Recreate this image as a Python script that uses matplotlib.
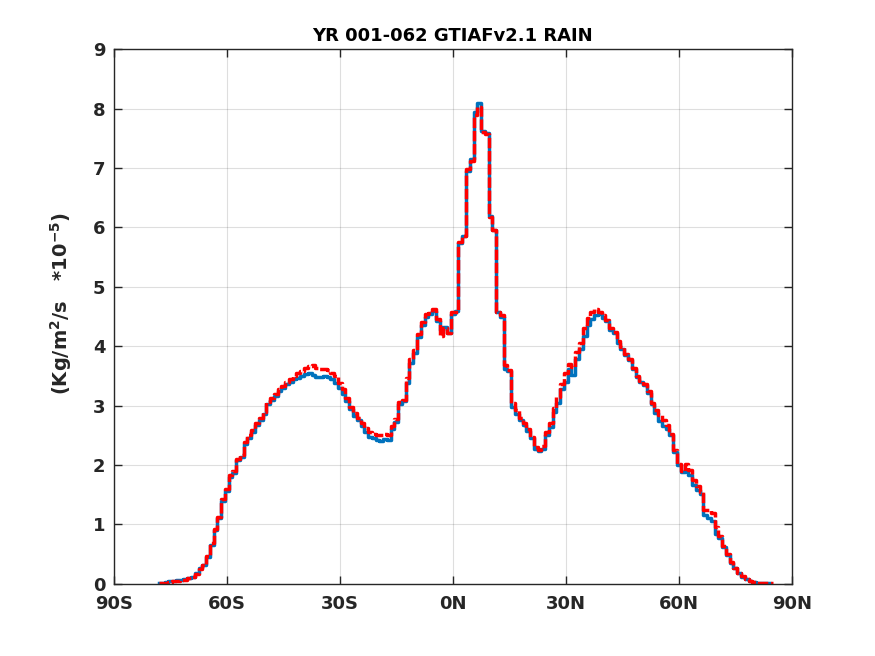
import matplotlib
matplotlib.use("Agg")
import matplotlib.pyplot as plt
import numpy as np

# zonal mean rain, 1 degree bins
lat = np.arange(-78, 85)

rain_blue = [
    0.02, 0.02, 0.03, 0.04, 0.05, 0.06, 0.07, 0.08, 0.10, 0.12,   # -78..-69
    0.18, 0.26, 0.31, 0.46, 0.66, 0.90, 1.10, 1.40, 1.56, 1.80,   # -68..-59
    1.86, 2.08, 2.14, 2.35, 2.46, 2.55, 2.68, 2.75, 2.86, 3.03,   # -58..-49
    3.09, 3.16, 3.25, 3.29, 3.36, 3.40, 3.44, 3.47, 3.50, 3.53,   # -48..-39
    3.55, 3.52, 3.48, 3.48, 3.50, 3.49, 3.44, 3.38, 3.30, 3.20,   # -38..-29
    3.08, 2.94, 2.83, 2.75, 2.66, 2.55, 2.48, 2.45, 2.42, 2.40,   # -28..-19
    2.43, 2.42, 2.60, 2.72, 3.02, 3.08, 3.38, 3.72, 3.88, 4.15,   # -18..-9
    4.35, 4.50, 4.54, 4.60, 4.42, 4.27, 4.32, 4.22, 4.55, 4.60,   # -8..1
    5.73, 5.85, 6.95, 7.15, 7.95, 8.09, 7.62, 7.59, 6.20, 5.96,   # 2..11
    4.57, 4.50, 3.62, 3.58, 2.98, 2.86, 2.76, 2.68, 2.58, 2.45,   # 12..21
    2.27, 2.23, 2.27, 2.50, 2.64, 2.90, 3.05, 3.28, 3.40, 3.62,   # 22..31
    3.52, 3.78, 3.95, 4.18, 4.35, 4.45, 4.52, 4.54, 4.48, 4.42,   # 32..41
    4.28, 4.22, 4.06, 3.96, 3.85, 3.76, 3.62, 3.48, 3.40, 3.34,   # 42..51
    3.22, 3.02, 2.88, 2.74, 2.66, 2.60, 2.50, 2.22, 2.00, 1.88,   # 52..61
    1.92, 1.84, 1.66, 1.58, 1.52, 1.16, 1.10, 1.06, 0.84, 0.78,   # 62..71
    0.62, 0.48, 0.35, 0.26, 0.18, 0.12, 0.08, 0.05, 0.03, 0.02,   # 72..81
    0.02, 0.01, 0.01,                                             # 82..84
]

rain_red = [
    0.02, 0.02, 0.02, 0.03, 0.04, 0.05, 0.06, 0.07, 0.09, 0.11,   # -78..-69
    0.17, 0.25, 0.31, 0.47, 0.68, 0.93, 1.12, 1.43, 1.60, 1.84,   # -68..-59
    1.90, 2.10, 2.17, 2.38, 2.50, 2.59, 2.71, 2.79, 2.90, 3.06,   # -58..-49
    3.13, 3.20, 3.28, 3.33, 3.40, 3.45, 3.50, 3.55, 3.58, 3.63,   # -48..-39
    3.67, 3.68, 3.63, 3.62, 3.62, 3.60, 3.55, 3.50, 3.38, 3.28,   # -38..-29
    3.12, 2.98, 2.88, 2.80, 2.70, 2.62, 2.55, 2.52, 2.50, 2.50,   # -28..-19
    2.52, 2.50, 2.66, 2.78, 3.06, 3.10, 3.46, 3.78, 3.93, 4.20,   # -18..-9
    4.40, 4.55, 4.56, 4.63, 4.45, 4.18, 4.30, 4.22, 4.58, 4.58,   # -8..1
    5.75, 5.86, 6.98, 7.12, 7.90, 8.02, 7.60, 7.58, 6.18, 5.96,   # 2..11
    4.58, 4.52, 3.68, 3.60, 3.05, 2.92, 2.80, 2.70, 2.60, 2.47,   # 12..21
    2.30, 2.25, 2.32, 2.56, 2.70, 2.96, 3.15, 3.36, 3.55, 3.70,   # 22..31
    3.65, 3.90, 4.05, 4.30, 4.48, 4.58, 4.63, 4.57, 4.52, 4.44,   # 32..41
    4.30, 4.24, 4.08, 3.98, 3.87, 3.78, 3.64, 3.50, 3.42, 3.36,   # 42..51
    3.24, 3.05, 2.92, 2.84, 2.76, 2.68, 2.52, 2.25, 2.02, 1.90,   # 52..61
    2.02, 1.92, 1.75, 1.65, 1.55, 1.25, 1.24, 1.20, 0.95, 0.80,   # 62..71
    0.64, 0.50, 0.36, 0.27, 0.19, 0.13, 0.08, 0.05, 0.03, 0.02,   # 72..81
    0.02, 0.01, 0.01,                                             # 82..84
]

xticks = [-90, -60, -30, 0, 30, 60, 90]
xticklabels = ["90S", "60S", "30S", "0N", "30N", "60N", "90N"]

ink = "#262626"
plt.rcParams["font.family"] = "DejaVu Sans"
plt.rcParams["font.weight"] = "bold"
plt.rcParams["mathtext.default"] = "bf"

fig = plt.figure(figsize=(8.75, 6.56), dpi=100)
ax = fig.add_axes([0.13, 0.11, 0.775, 0.815])

ax.plot(lat, rain_blue, color="#0072BD", lw=2.5, drawstyle="steps-mid")
ax.plot(np.append(lat, 85), rain_red + [0.01], color="red", lw=2.5,
        ls=(0, (3, 0.8)), drawstyle="steps-mid")

ax.set_xlim(-90, 90)
ax.set_ylim(0, 9)
ax.set_xticks(xticks)
ax.set_xticklabels(xticklabels)
ax.set_yticks(range(10))
ax.tick_params(direction="in", length=6, width=1, top=True, right=True,
               labelsize=13, colors=ink)
ax.tick_params(axis="x", pad=8)
ax.tick_params(axis="y", pad=6)
for lab in ax.get_xticklabels() + ax.get_yticklabels():
    lab.set_fontweight("bold")
for s in ax.spines.values():
    s.set_color(ink)
    s.set_linewidth(1)
ax.grid(True, color=ink, alpha=0.15, lw=0.8)
ax.set_axisbelow(True)

ax.set_title("YR 001-062 GTIAFv2.1 RAIN", fontsize=13, fontweight="bold",
             color="black", pad=6)
ax.set_ylabel(r"(Kg/m$^{2}$/s   *10$^{-5}$)", fontsize=14,
              fontweight="bold", color=ink)
ax.yaxis.set_label_coords(-0.058, 0.525)

fig.savefig("out.png", dpi=100, facecolor="white")
